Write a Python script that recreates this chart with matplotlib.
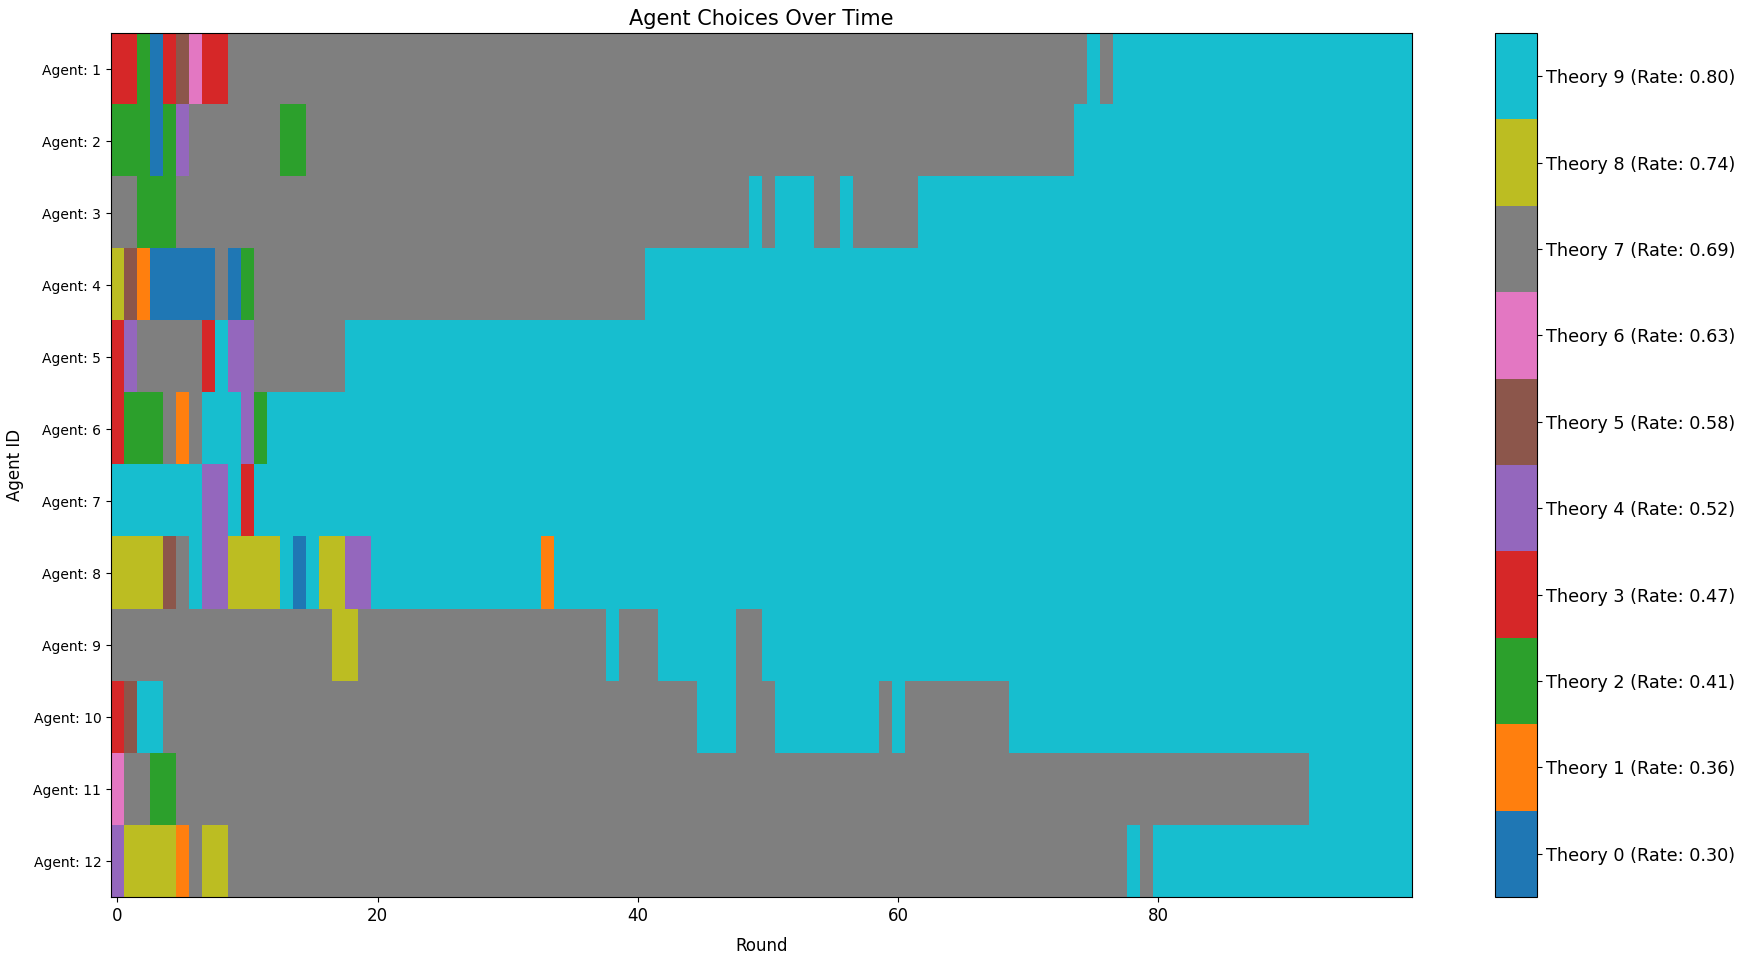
import numpy as np
import matplotlib
matplotlib.use("Agg")
import matplotlib.pyplot as plt

# =================================================================
# DATA (stored as runs of (theory, n_rounds))
# =================================================================
agent_labels = ['Agent: %d' % i for i in range(1, 13)]
theory_rates = [0.30, 0.36, 0.41, 0.47, 0.52, 0.58, 0.63, 0.69, 0.74, 0.80]

runs_agent_1 = [(3, 2), (2, 1), (0, 1), (3, 1), (5, 1), (6, 1), (3, 2), (7, 66), (9, 1), (7, 1), (9, 23)]
runs_agent_2 = [(2, 3), (0, 1), (2, 1), (4, 1), (7, 7), (2, 2), (7, 59), (9, 26)]
runs_agent_3 = [(7, 2), (2, 3), (7, 44), (9, 1), (7, 1), (9, 3), (7, 2), (9, 1), (7, 5), (9, 38)]
runs_agent_4 = [(8, 1), (5, 1), (1, 1), (0, 5), (7, 1), (0, 1), (2, 1), (7, 30), (9, 59)]
runs_agent_5 = [(3, 1), (4, 1), (7, 5), (3, 1), (9, 1), (4, 2), (7, 7), (9, 82)]
runs_agent_6 = [(3, 1), (2, 3), (7, 1), (1, 1), (7, 1), (9, 3), (4, 1), (2, 1), (9, 88)]
runs_agent_7 = [(9, 7), (4, 2), (9, 1), (3, 1), (9, 89)]
runs_agent_8 = [(8, 4), (5, 1), (7, 1), (9, 1), (4, 2), (8, 4), (9, 1), (0, 1), (9, 1), (8, 2), (4, 2),
                (9, 13), (1, 1), (9, 66)]
runs_agent_9 = [(7, 17), (8, 2), (7, 19), (9, 1), (7, 3), (9, 6), (7, 2), (9, 50)]
runs_agent_10 = [(3, 1), (5, 1), (9, 2), (7, 41), (9, 3), (7, 3), (9, 8), (7, 1), (9, 1), (7, 8), (9, 31)]
runs_agent_11 = [(6, 1), (7, 2), (2, 2), (7, 87), (9, 8)]
runs_agent_12 = [(4, 1), (8, 4), (1, 1), (7, 1), (8, 2), (7, 69), (9, 1), (7, 1), (9, 20)]


def expand(runs):
    out = []
    for val, n in runs:
        out += [val] * n
    return out


all_runs = [runs_agent_1, runs_agent_2, runs_agent_3, runs_agent_4, runs_agent_5, runs_agent_6,
            runs_agent_7, runs_agent_8, runs_agent_9, runs_agent_10, runs_agent_11, runs_agent_12]
choices = np.array([expand(r) for r in all_runs])

# =================================================================
# PLOT
# =================================================================
fig = plt.figure(figsize=(17.37, 9.63), dpi=100)
ax = fig.add_axes([0.0639, 0.0685, 0.7490, 0.8972])
cax = fig.add_axes([0.8604, 0.0685, 0.0242, 0.8972])

im = ax.imshow(choices, aspect='auto', cmap='tab10', vmin=-0.5, vmax=9.5,
               interpolation='nearest')
ax.set_yticks(range(len(agent_labels)))
ax.set_yticklabels(agent_labels)
ax.tick_params(axis='x', labelsize=12)
ax.set_xlabel('Round', fontsize=12, labelpad=9)
ax.set_ylabel('Agent ID', fontsize=12, labelpad=7)
ax.set_title('Agent Choices Over Time', fontsize=15)

cbar = fig.colorbar(im, cax=cax, ticks=range(len(theory_rates)))
cbar.ax.set_yticklabels(['Theory %d (Rate: %.2f)' % (i, r) for i, r in enumerate(theory_rates)],
                        fontsize=12.7)

plt.savefig('out.png', dpi=100)
